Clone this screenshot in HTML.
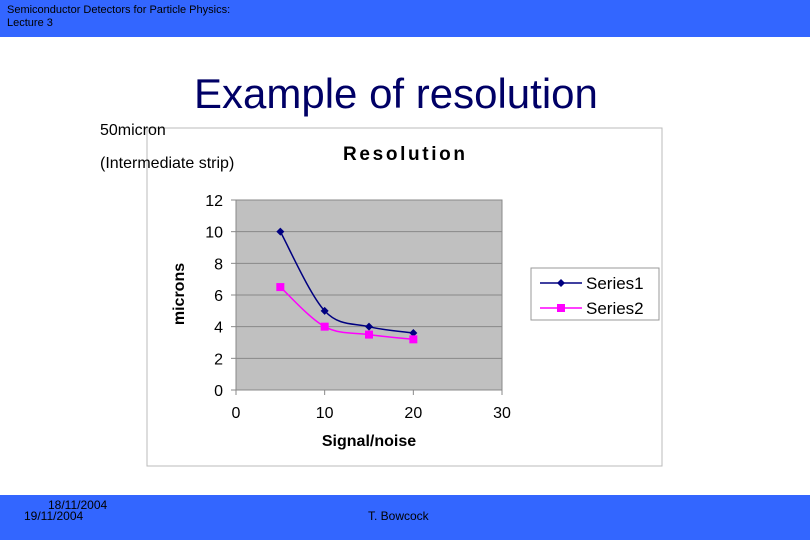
<!DOCTYPE html>
<html><head><meta charset="utf-8"><style>
body{margin:0;width:810px;height:540px;position:relative;background:#fff;font-family:"Liberation Sans",sans-serif;overflow:hidden}
.hdr{position:absolute;left:0;top:0;width:810px;height:37px;background:#3366ff;color:#000;font-size:11px;line-height:13px;padding:4px 0 0 7px;box-sizing:border-box}
.ftr{position:absolute;left:0;top:495px;width:810px;height:45px;background:#3366ff;font-size:12px}
</style></head><body>
<div class="hdr">Semiconductor Detectors for Particle Physics:<br>Lecture 3</div>
<div style="position:absolute;left:194px;top:70px;font-size:42px;color:#000066">Example of resolution</div>
<svg width="810" height="540" style="position:absolute;left:0;top:0" id="chart">
<rect x="147" y="128" width="515" height="338" fill="#fff" stroke="#bbb"/>
<text x="404" y="160" font-size="19" font-weight="bold" text-anchor="middle" font-family="Liberation Sans" textLength="122">Resolution</text>
<rect x="236" y="200" width="266" height="190" fill="#c0c0c0" stroke="#888"/>
<g id="grid"></g><g id="lines"></g>
<text x="369" y="446" font-size="16" font-weight="bold" text-anchor="middle" font-family="Liberation Sans">Signal/noise</text>
<text transform="translate(184,294) rotate(-90)" font-size="16" font-weight="bold" text-anchor="middle" font-family="Liberation Sans">microns</text>
<rect x="531" y="268" width="128" height="52" fill="#fff" stroke="#999"/>
<line x1="540" y1="283" x2="582" y2="283" stroke="#000080" stroke-width="1.5"/>
<path d="M561 279 L565 283 L561 287 L557 283Z" fill="#000080"/>
<text x="586" y="289" font-size="17" font-family="Liberation Sans">Series1</text>
<line x1="540" y1="308" x2="582" y2="308" stroke="#ff00ff" stroke-width="1.5"/>
<rect x="557" y="304" width="8" height="8" fill="#ff00ff"/>
<text x="586" y="314" font-size="17" font-family="Liberation Sans">Series2</text>
</svg>
<div style="position:absolute;left:100px;top:122px;font-size:16px">50micron</div>
<div style="position:absolute;left:100px;top:155px;font-size:16px">(Intermediate strip)</div>
<div class="ftr">
<div style="position:absolute;left:48px;top:3px">18/11/2004</div>
<div style="position:absolute;left:24px;top:14px">19/11/2004</div>
<div style="position:absolute;left:368px;top:14px">T. Bowcock</div>
</div>
<script>
const xVals=[5,10,15,20];
const series1=[10,5,4,3.6];
const series2=[6.5,4,3.5,3.2];
const yTicks=[0,2,4,6,8,10,12];
const xTicks=[0,10,20,30];
const NS="http://www.w3.org/2000/svg";
const X=v=>236+v*266/30, Y=v=>390-v*190/12;
const g=document.getElementById('grid'), L=document.getElementById('lines');
function mk(t,a,p){const e=document.createElementNS(NS,t);for(const k in a)e.setAttribute(k,a[k]);p.appendChild(e);return e;}
yTicks.forEach(v=>{
 if(v>0&&v<12){const l=mk('line',{x1:236,x2:502,y1:Y(v),y2:Y(v),stroke:'#888'},g);}
 mk('line',{x1:231,x2:236,y1:Y(v),y2:Y(v),stroke:'#888'},g);
 const t=mk('text',{x:223,y:Y(v)+6,'font-size':16,'text-anchor':'end','font-family':'Liberation Sans'},g);t.textContent=v;
 
});
xTicks.forEach(v=>{
 mk('line',{x1:X(v),x2:X(v),y1:390,y2:395,stroke:'#888'},g);
 const t=mk('text',{x:X(v),y:418,'font-size':16,'text-anchor':'middle','font-family':'Liberation Sans'},g);t.textContent=v;
 
});
function smooth(pts){let d=`M${pts[0][0]} ${pts[0][1]}`;for(let i=0;i<pts.length-1;i++){const p0=pts[Math.max(i-1,0)],p1=pts[i],p2=pts[i+1],p3=pts[Math.min(i+2,pts.length-1)];
 d+=` C${p1[0]+(p2[0]-p0[0])/6} ${p1[1]+(p2[1]-p0[1])/6} ${p2[0]-(p3[0]-p1[0])/6} ${p2[1]-(p3[1]-p1[1])/6} ${p2[0]} ${p2[1]}`;}return d;}
function draw(vals,col,name,sq){
 const pts=xVals.map((x,i)=>[X(x),Y(vals[i])]);
 const p=mk('path',{d:smooth(pts),fill:'none',stroke:col,'stroke-width':1.5},L);
 
 pts.forEach(([x,y])=>{const m=sq?mk('rect',{x:x-4,y:y-4,width:8,height:8,fill:col},L):mk('path',{d:`M${x} ${y-4}L${x+4} ${y}L${x} ${y+4}L${x-4} ${y}Z`,fill:col},L);
  });
}
draw(series1,'#000080','series1',false);
draw(series2,'#ff00ff','series2',true);
</script>
</body></html>
